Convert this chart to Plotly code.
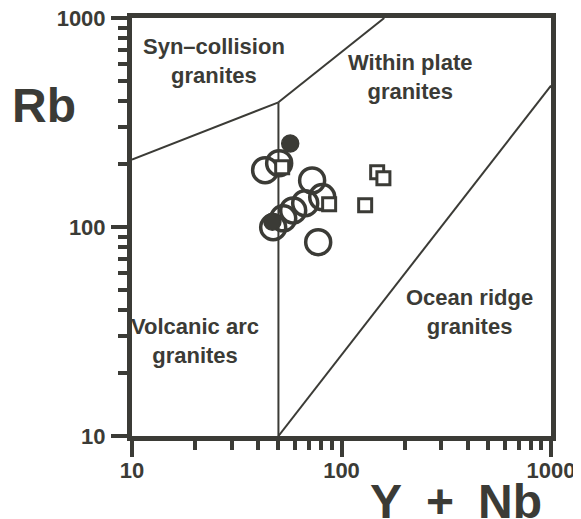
import plotly.graph_objects as go

# ---- data ----
open_circle_x = [43.2, 50.4, 72.4, 80.9, 67.1, 58.8, 52.7, 47.2, 77.4]
open_circle_y = [187, 202, 167, 139, 130, 120, 110, 99.7, 84.6]

filled_circle_x = [56.9, 46.8]
filled_circle_y = [251, 106]

square_x = [52.1, 87.3, 129.7, 148, 158.5]
square_y = [193, 128.5, 127, 183, 171]

# field boundaries (Y+Nb, Rb)
syn_vag_x = [10, 50]
syn_vag_y = [210, 395]
syn_wpg_x = [50, 160]
syn_wpg_y = [395, 1000]
vag_wpg_x = [50, 50]
vag_wpg_y = [10, 395]
org_wpg_x = [50, 1000]
org_wpg_y = [10, 475]

major_ticks = [10, 100, 1000]
major_labels = ["10", "100", "1000"]
minor_ticks = [20, 30, 40, 50, 60, 70, 80, 90, 200, 300, 400, 500, 600, 700, 800, 900]

field_labels = ["Syn\u2013collision<br>granites", "Within plate<br>granites",
                "Volcanic arc<br>granites", "Ocean ridge<br>granites"]

INK = "#3b3b36"
FONT = "Liberation Sans, Arial, sans-serif"

fig = go.Figure()

for bx, by in [(syn_vag_x, syn_vag_y), (syn_wpg_x, syn_wpg_y),
               (vag_wpg_x, vag_wpg_y), (org_wpg_x, org_wpg_y)]:
    fig.add_trace(go.Scatter(x=bx, y=by, mode="lines",
                             line=dict(color=INK, width=2), hoverinfo="skip"))

fig.add_trace(go.Scatter(x=open_circle_x, y=open_circle_y, mode="markers",
                         marker=dict(symbol="circle-open", size=25, color=INK,
                                     line=dict(color=INK, width=3.5))))
fig.add_trace(go.Scatter(x=filled_circle_x, y=filled_circle_y, mode="markers",
                         marker=dict(symbol="circle", size=17, color=INK,
                                     line=dict(color=INK, width=1.5))))
fig.add_trace(go.Scatter(x=square_x, y=square_y, mode="markers",
                         marker=dict(symbol="square", size=13, color="white",
                                     line=dict(color=INK, width=3))))

axis_common = dict(
    type="log", range=[1, 3], showgrid=False, zeroline=False,
    showline=True, linewidth=5, linecolor=INK, mirror=True,
    ticks="outside", ticklen=16, tickwidth=4, tickcolor=INK,
    tickmode="array", tickvals=major_ticks, ticktext=major_labels,
    ticklabeloverflow="allow",
    tickfont=dict(family=FONT, size=22, color=INK, weight="bold"),
    minor=dict(tickmode="array", tickvals=minor_ticks, ticks="outside",
               ticklen=9, tickwidth=4, tickcolor=INK, showgrid=False),
)
fig.update_xaxes(**axis_common, ticklabelstandoff=-5)
fig.update_yaxes(**axis_common, ticklabelstandoff=1)

# page has an 8px body margin: size the figure so the plot lands where the
# reference has it (plot area x 132..551, y 18..436 in window pixels)
OFF = 8
W, H = 581 - OFF, 519 - OFF
L, R, T, B = 132 - OFF, 30, 18 - OFF, 83
pw, ph = W - L - R, H - T - B


def px(x):
    return (x - OFF - L) / pw


def py(y):
    return (H - B - (y - OFF)) / ph


label_pos = [(214, 61), (410, 77), (195, 341), (469, 312)]
for text, (lx, ly) in zip(field_labels, label_pos):
    fig.add_annotation(x=px(lx), y=py(ly), xref="paper", yref="paper",
                       xanchor="center", yanchor="middle",
                       text=text, showarrow=False, align="center",
                       font=dict(family=FONT, size=22, color=INK, weight="bold"))

fig.add_annotation(x=px(44), y=py(105), xref="paper", yref="paper", text="Rb",
                   xanchor="center", yanchor="middle", showarrow=False,
                   font=dict(family=FONT, size=48, color=INK, weight="bold"))
fig.add_annotation(x=px(456), y=py(501), xref="paper", yref="paper",
                   text="Y\u2002+\u2002Nb", xanchor="center", yanchor="middle",
                   showarrow=False,
                   font=dict(family=FONT, size=48, color=INK, weight="bold"))

fig.update_layout(
    width=W, height=H, showlegend=False,
    margin=dict(l=L, r=R, t=T, b=B, autoexpand=False),
    plot_bgcolor="white", paper_bgcolor="white",
)

fig.write_html("out.html")
